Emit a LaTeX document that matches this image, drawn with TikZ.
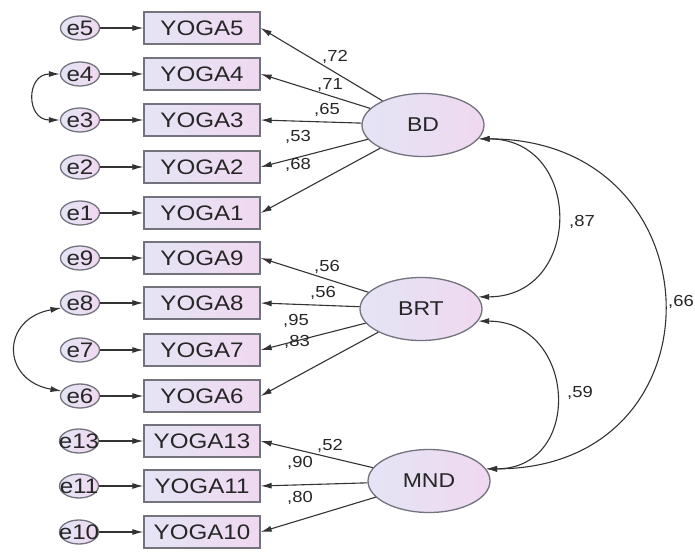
\documentclass[tikz,border=0pt]{standalone}
\usepackage{fontspec}
\setmainfont{Liberation Sans}[FakeStretch=1.15]
\usetikzlibrary{arrows.meta, shapes.geometric}

\definecolor{fillL}{RGB}{228,228,245}
\definecolor{fillR}{RGB}{240,216,240}
\definecolor{edge}{RGB}{115,115,125}

\begin{document}
\begin{tikzpicture}[x=1pt, y=1pt,
    every node/.style={text=black!85},
    obs/.style={rectangle, draw=edge, line width=1.3pt, left color=fillL, right color=fillR,
                minimum width=116pt, minimum height=32pt, inner sep=0pt,
                font=\fontsize{21}{24}\selectfont},
    lat/.style={ellipse, draw=edge, line width=1.3pt, left color=fillL, right color=fillR,
                minimum width=122pt, minimum height=63pt, inner sep=0pt,
                font=\fontsize{20}{24}\selectfont},
    err/.style={ellipse, draw=edge, line width=1.3pt, left color=fillL, right color=fillR,
                minimum width=39pt, minimum height=24pt, inner sep=0pt,
                font=\fontsize{21}{24}\selectfont},
    arr/.style={-{Latex[length=11pt, width=6pt]}, line width=1.1pt, draw=black!80},
    cov/.style={{Latex[length=11pt, width=6pt]}-{Latex[length=11pt, width=6pt]},
                line width=1.1pt, draw=black!80},
    lbl/.style={font=\fontsize{16}{18}\selectfont, inner sep=0pt},
]
\useasboundingbox (0,0) rectangle (695,-551);

% observed items
\node[obs] (y5)  at (202,-28)  {YOGA5};
\node[obs] (y4)  at (202,-74)  {YOGA4};
\node[obs] (y3)  at (202,-120) {YOGA3};
\node[obs] (y2)  at (202,-167) {YOGA2};
\node[obs] (y1)  at (202,-213) {YOGA1};
\node[obs] (y9)  at (202,-258) {YOGA9};
\node[obs] (y8)  at (202,-303) {YOGA8};
\node[obs] (y7)  at (202,-350) {YOGA7};
\node[obs] (y6)  at (202,-396) {YOGA6};
\node[obs] (y13) at (202,-441) {YOGA13};
\node[obs] (y11) at (202,-486) {YOGA11};
\node[obs] (y10) at (202,-532) {YOGA10};

% error terms
\node[err] (e5)  at (80,-28)  {e5};
\node[err] (e4)  at (80,-74)  {e4};
\node[err] (e3)  at (80,-120) {e3};
\node[err] (e2)  at (80,-167) {e2};
\node[err] (e1)  at (80,-213) {e1};
\node[err] (e9)  at (80,-258) {e9};
\node[err] (e8)  at (80,-303) {e8};
\node[err] (e7)  at (80,-350) {e7};
\node[err] (e6)  at (80,-396) {e6};
\node[err] (e13) at (79,-441) {\makebox[0pt]{e13}};
\node[err] (e11) at (79,-486) {\makebox[0pt]{e11}};
\node[err] (e10) at (79,-532) {\makebox[0pt]{e10}};

% latent factors
\node[lat] (BD)  at (423,-125) {BD};
\node[lat] (BRT) at (421,-309) {BRT};
\node[lat] (MND) at (429,-481) {MND};

\draw[arr] (e5) -- (y5);
\draw[arr] (e4) -- (y4);
\draw[arr] (e3) -- (y3);
\draw[arr] (e2) -- (y2);
\draw[arr] (e1) -- (y1);
\draw[arr] (e9) -- (y9);
\draw[arr] (e8) -- (y8);
\draw[arr] (e7) -- (y7);
\draw[arr] (e6) -- (y6);
\draw[arr] (e13) -- (y13);
\draw[arr] (e11) -- (y11);
\draw[arr] (e10) -- (y10);

\draw[cov] (e4.west) to[out=180, in=180, looseness=1.9] (e3.west);
\draw[cov] (e8.195) to[out=190, in=170, looseness=1.9] (e6.165);

% loadings
\draw[arr] (BD) -- (y5.east);
\draw[arr] (BD) -- (y4.east);
\draw[arr] (BD) -- (y3.east);
\draw[arr] (BD) -- (y2.east);
\draw[arr] (BD) -- (y1.east);
\draw[arr] (BRT) -- (y9.east);
\draw[arr] (BRT) -- (y8.east);
\draw[arr] (BRT) -- (y7.east);
\draw[arr] (BRT) -- (y6.east);
\draw[arr] (MND) -- (y13.east);
\draw[arr] (MND) -- (y11.east);
\draw[arr] (MND) -- (y10.east);

\node[lbl] (l5)  at (335,-57)  {,72};
\node[lbl] (l4)  at (330,-85)  {,71};
\node[lbl] (l3)  at (327,-110) {,65};
\node[lbl] (l2)  at (298,-137) {,53};
\node[lbl] (l1)  at (298,-165) {,68};
\node[lbl] (l9)  at (327,-267) {,56};
\node[lbl] (l8)  at (323,-293) {,56};
\node[lbl] (l7)  at (296,-321) {,95};
\node[lbl] (l6)  at (297,-342) {,83};
\node[lbl] (l13) at (330,-446) {,52};
\node[lbl] (l11) at (300,-463) {,90};
\node[lbl] (l10) at (300,-498) {,80};

% factor correlations
\draw[cov] (BD.-14) to[out=0, in=0, looseness=1.7] (BRT.12);
\draw[cov] (BRT.-12) to[out=0, in=0, looseness=1.7] (MND.12);
\draw[cov] (BD.-14) to[out=0, in=0, looseness=1.87] (MND.12);
\node[lbl] (r1) at (582,-222) {,87};
\node[lbl] (r2) at (580,-393) {,59};
\node[lbl] (r3) at (681,-302) {,66};
\end{tikzpicture}
\end{document}
